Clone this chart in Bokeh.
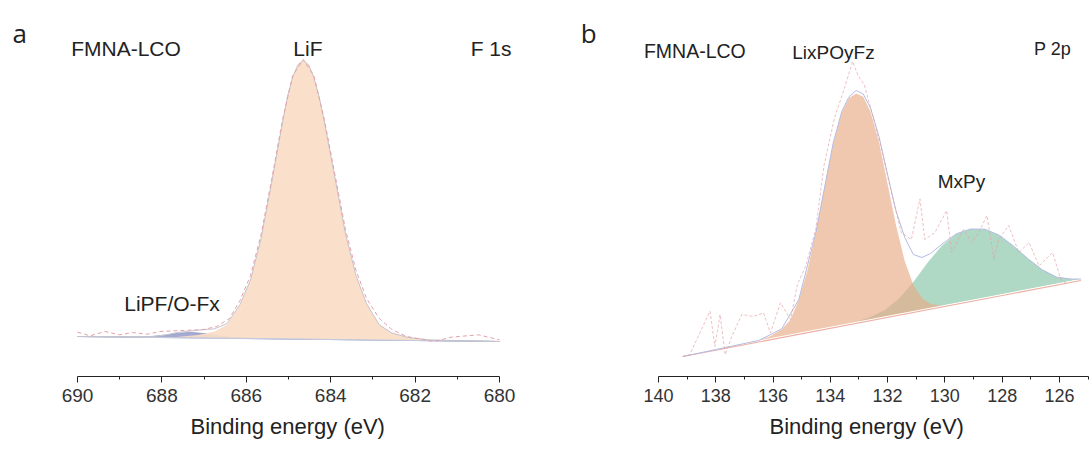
from bokeh.plotting import figure
from bokeh.layouts import row
from bokeh.models import Range1d, FixedTicker, Label, Title
from bokeh.embed import file_html
from bokeh.resources import INLINE

# ---------------- Panel a : F 1s ----------------
a_ticks = [690, 688, 686, 684, 682, 680]
a_minor = [689, 687, 685, 683, 681]
a_base_e = [690, 680]
a_base_y = [40, 35]
a_lif_e = [690, 687.65, 687.15, 686.75, 686.45, 686.15, 685.9, 685.65, 685.4, 685.15, 685.025,
           684.9, 684.775, 684.65, 684.525, 684.4, 684.275, 684.15, 683.9, 683.65, 683.4,
           683.15, 682.85, 682.55, 682.15, 681.65, 680]
a_lif_y = [40, 39.6, 41.4, 45.1, 52.1, 71.5, 96.5, 138.1, 193.8, 252.2, 280.0,
           299.5, 311.9, 316.0, 311.8, 299.2, 279.7, 254.5, 198.6, 142.7, 100.8,
           72.8, 51.7, 43.5, 38.9, 36.6, 35]
a_lipf_e = [690, 688.6, 688.2, 687.9, 687.6, 687.3, 687.0, 686.7, 686.4, 686.0, 685.4, 680]
a_lipf_y = [40, 39.5, 40.1, 41.5, 43.3, 44.1, 42.9, 40.8, 39.2, 38.4, 37.8, 35]
a_env_e = [690, 688.6, 688.2, 687.9, 687.65, 687.15, 686.75, 686.45, 686.15, 685.9, 685.65,
           685.4, 685.15, 685.025, 684.9, 684.775, 684.65, 684.525, 684.4, 684.275, 684.15,
           683.9, 683.65, 683.4, 683.15, 682.85, 682.55, 682.15, 681.65, 680]
a_env_y = [40, 39.5, 40.1, 41.6, 43.9, 46.4, 47.7, 53.1, 72.0, 96.5, 138.1,
           193.8, 252.2, 280.0, 299.5, 311.9, 316.0, 311.8, 299.2, 279.7, 254.5,
           198.6, 142.7, 100.8, 72.8, 51.7, 43.5, 38.9, 36.6, 35]
a_raw_e = [690, 689.7, 689.35, 689.0, 688.7, 688.35, 688.05, 687.55, 687.05, 686.7, 686.4,
           686.15, 685.9, 685.65, 685.4, 685.15, 684.9, 684.65, 684.4, 684.15, 683.9, 683.65,
           683.4, 683.15, 682.85, 682.55, 682.2, 681.55, 681.15, 680.5, 680.0]
a_raw_y = [44.3, 40.7, 45, 41.7, 44, 42.3, 45, 46, 46.7, 50, 58,
           76, 101, 142, 197, 255, 301, 317, 301, 257, 202, 147,
           106, 78, 58, 47, 40, 35, 39.3, 41.7, 36.7]

# ---------------- Panel b : P 2p ----------------
b_ticks = [140, 138, 136, 134, 132, 130, 128, 126]
b_minor = [139, 137, 135, 133, 131, 129, 127, 125]
b_base_e = [139.15, 125.25]
b_base_y = [20, 96]
b_lix_e = [139.15, 137.5, 136.5, 136.1, 135.7, 135.4, 135.1, 134.8, 134.5, 134.2, 133.9, 133.6,
           133.35, 133.1, 132.85, 132.6, 132.3, 132.0, 131.7, 131.4, 131.1, 130.8, 130.5,
           130.1, 129.6, 128.0, 125.25]
b_lix_y = [20, 29.5, 35.9, 40.2, 47.0, 56.6, 76.6, 105.9, 144.3, 189.7, 232.7, 264.2,
           278.3, 283.1, 279.8, 265.1, 234.6, 192.5, 150.4, 115.3, 91.6, 78.4, 72.4,
           70.9, 72.4, 81.0, 96.0]
b_mxp_e = [139.15, 134.5, 133.6, 133.1, 132.6, 132.1, 131.6, 131.1, 130.6, 130.1, 129.6,
           129.1, 128.6, 128.1, 127.6, 127.1, 126.6, 126.1, 125.6, 125.25]
b_mxp_y = [20, 45.5, 50.9, 54.6, 59.4, 66.5, 78.0, 94.5, 113.9, 131.1, 142.5,
           147.5, 147.3, 141.3, 130.3, 117.8, 106.7, 99.4, 97.4, 97.5]
b_env_e = [139.15, 136.5, 135.7, 135.1, 134.5, 133.9, 133.6, 133.35, 133.1, 132.85, 132.6,
           132.3, 132.0, 131.7, 131.4, 131.1, 130.8, 130.5, 130.1, 129.6, 129.1, 128.6,
           128.1, 127.6, 127.1, 126.6, 126.1, 125.6, 125.25]
b_env_y = [20, 36, 47.5, 77, 144.5, 233.5, 265, 279.5, 286, 282.5, 268.7,
           240, 202, 165, 139, 122, 119, 123, 132.5, 142.7, 147.5, 147.3,
           141.3, 130.3, 117.8, 106.7, 99.4, 97.4, 97.5]
b_raw_e = [139.15, 138.91, 138.20, 138.03, 137.85, 137.67, 137.44, 137.09, 136.68, 136.33,
           136.09, 135.74, 135.39, 135.15, 134.86, 134.51, 134.22, 133.86, 133.51, 133.22,
           133.04, 132.81, 132.52, 132.22, 131.87, 131.52, 131.17, 130.87, 130.70, 130.35,
           129.94, 129.76, 129.35, 129.06, 128.82, 128.53, 128.29, 128.12, 127.77, 127.42,
           127.06, 126.71, 126.24, 125.95, 125.72]
b_raw_y = [20, 21.8, 65.3, 30, 62, 21.8, 40, 62, 60, 63.6,
           43.6, 73.7, 57, 92, 110.5, 147, 211, 258, 288, 315,
           301.5, 291.5, 261, 228, 184, 144, 137, 177.6, 137, 144,
           166, 124, 147, 134, 144, 161, 117, 137, 151, 124,
           134, 110.5, 124, 97, 92]

FONT = "Liberation Sans"
X_TITLE = "Binding energy (eV)"


def style_axis(p, ticks, minor, tick_size, bounds, title_offset):
    ax = p.xaxis[0]
    ax.ticker = FixedTicker(ticks=ticks, minor_ticks=minor)
    ax.bounds = bounds
    ax.axis_line_color = "#222222"
    ax.major_tick_line_color = "#222222"
    ax.minor_tick_line_color = "#222222"
    ax.major_tick_in = 0
    ax.major_tick_out = 6
    ax.minor_tick_in = 0
    ax.minor_tick_out = 3
    ax.major_label_text_font = FONT
    ax.major_label_text_font_size = tick_size
    ax.major_label_text_color = "#333333"
    ax.major_label_standoff = 6
    # axis title as a below-title so it can be placed under the axis bounds
    p.add_layout(Title(text=X_TITLE, align="left", offset=title_offset, text_font=FONT,
                       text_font_size="22px", text_font_style="normal",
                       text_color="#222222", standoff=15), "below")


def add_label(p, text, x, y, size, font=FONT, align="center"):
    p.add_layout(Label(x=x, y=y, text=text, text_font=font, text_font_size=size,
                       text_color="#222222", text_align=align, text_baseline="alphabetic"))


# ---- figure a  (frame spans the whole figure width; axis line limited by bounds)
pa = figure(width=545, height=450, x_range=Range1d(691.825, 678.91), y_range=Range1d(0, 376),
            output_backend="svg", toolbar_location=None, y_axis_location=None,
            min_border_left=0, min_border_right=0, min_border_top=0, min_border_bottom=74,
            outline_line_color=None)
pa.xgrid.visible = False
pa.ygrid.visible = False
style_axis(pa, a_ticks, a_minor, "19px", (680, 690), 190)

pa.patch(a_lipf_e, a_lipf_y, fill_color="#7d86bd", fill_alpha=0.7, line_color="#8f96c6", line_width=0.8)
pa.patch(a_lif_e, a_lif_y, fill_color="#fadcc6", fill_alpha=0.92, line_color=None)
pa.line(a_base_e, a_base_y, line_color="#c3cbdc", line_width=1.2)
pa.line(a_env_e, a_env_y, line_color="#c4c4cc", line_width=1)
pa.line(a_raw_e, a_raw_y, line_color="#e6a0a8", line_width=1, line_dash="4 3")

add_label(pa, "a", 691.37, 344, "26px", font="Open Sans")
add_label(pa, "FMNA-LCO", 688.85, 328, "21px")
add_label(pa, "LiF", 684.54, 328, "21px")
add_label(pa, "F 1s", 680.2, 328, "21px")
add_label(pa, "LiPF/O-Fx", 687.76, 73, "21px")

# ---- figure b
pb = figure(width=544, height=450, x_range=Range1d(143.945, 124.95), y_range=Range1d(0, 376),
            output_backend="svg", toolbar_location=None, y_axis_location=None,
            min_border_left=0, min_border_right=0, min_border_top=0, min_border_bottom=74,
            outline_line_color=None)
pb.xgrid.visible = False
pb.ygrid.visible = False
style_axis(pb, b_ticks, b_minor, "18px", (125, 140), 224)

pb.patch(b_mxp_e, b_mxp_y, fill_color="#afd9c5", fill_alpha=1.0, line_color=None)
pb.patch(b_lix_e, b_lix_y, fill_color="#e8ab86", fill_alpha=0.66, line_color=None)
pb.line(b_base_e, b_base_y, line_color="#ffffff", line_width=3)
pb.line(b_base_e, b_base_y, line_color="#e89a8a", line_width=1.2, line_alpha=0.8)
pb.line(b_env_e, b_env_y, line_color="#b4bbe0", line_width=1)
pb.line(b_raw_e, b_raw_y, line_color="#e4a0a6", line_width=0.8, line_dash="3 2", line_alpha=0.85)

add_label(pb, "b", 142.44, 344, "26px", font="Open Sans")
add_label(pb, "FMNA-LCO", 138.73, 326, "19.5px")
add_label(pb, "LixPOyFz", 133.89, 324, "19px")
add_label(pb, "MxPy", 129.42, 195, "19px")
add_label(pb, "P 2p", 126.24, 328, "18px")

layout = row(pa, pb)
open("out.html", "w").write(file_html(layout, INLINE))
